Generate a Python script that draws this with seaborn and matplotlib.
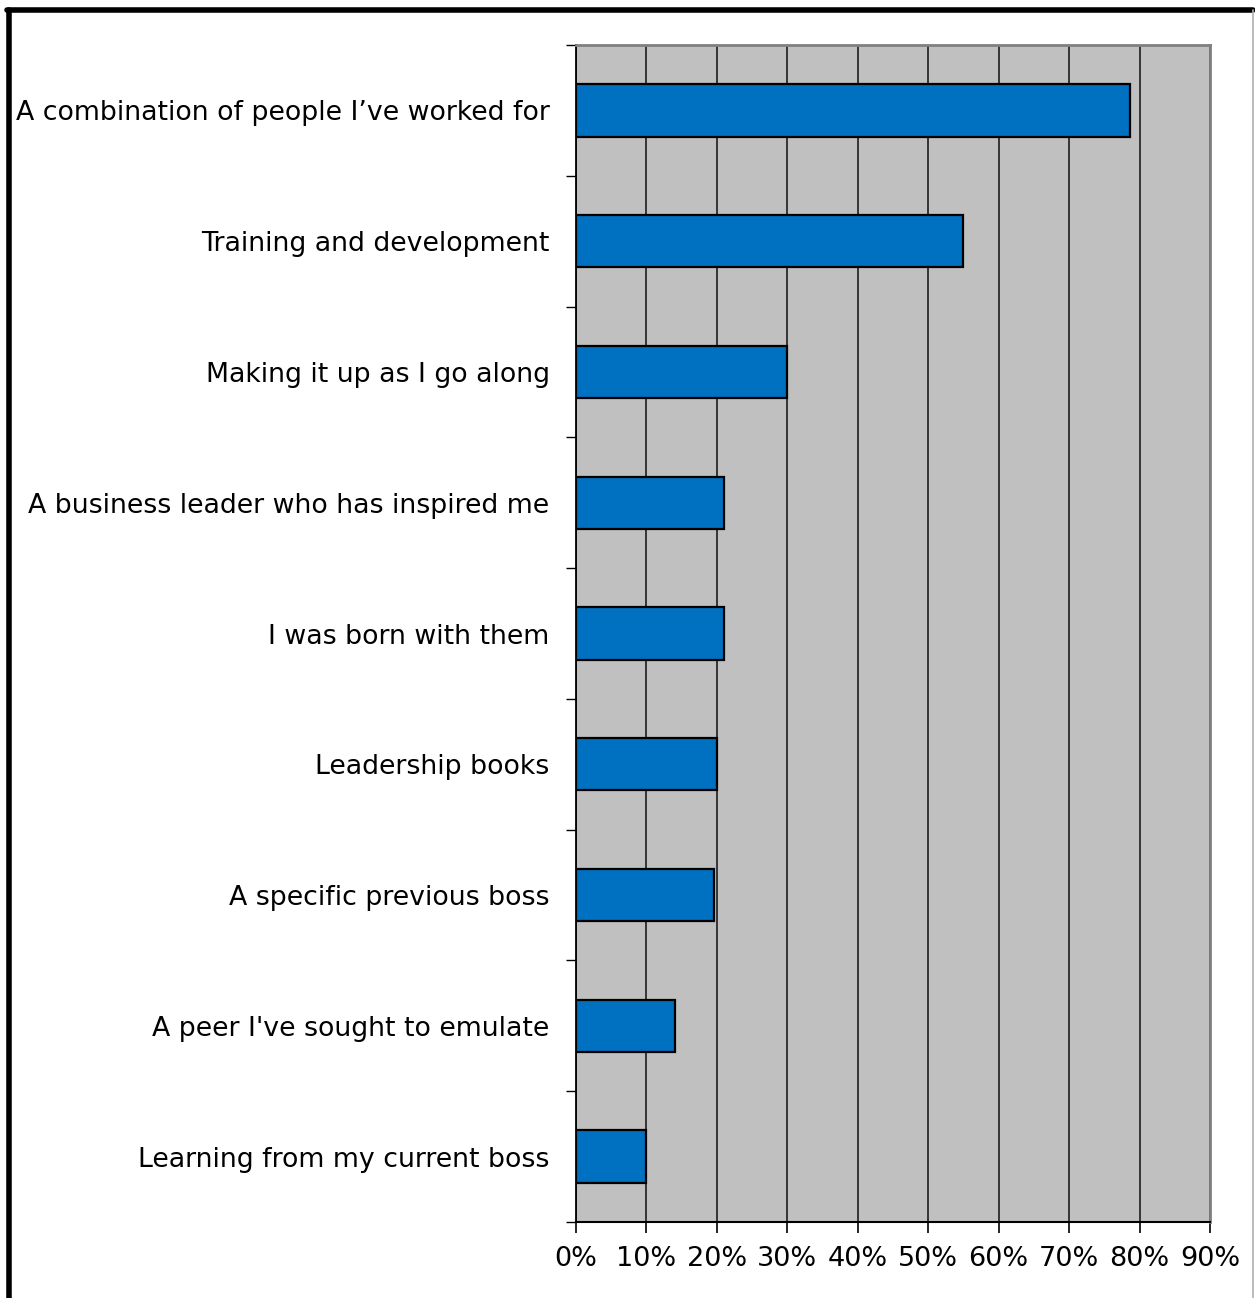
import matplotlib
matplotlib.use("Agg")
import matplotlib.pyplot as plt
from matplotlib.lines import Line2D
from matplotlib.ticker import FixedLocator, PercentFormatter
import seaborn as sns
import pandas as pd

categories = [
    "A combination of people I\u2019ve worked for",
    "Training and development",
    "Making it up as I go along",
    "A business leader who has inspired me",
    "I was born with them",
    "Leadership books",
    "A specific previous boss",
    "A peer I've sought to emulate",
    "Learning from my current boss",
]
shares = [78.6, 55.0, 30.0, 21.0, 21.0, 20.0, 19.6, 14.0, 10.0]
x_ticks = [0, 10, 20, 30, 40, 50, 60, 70, 80, 90]

df = pd.DataFrame({"source": categories, "share": shares})

sns.set_style("white")
plt.rcParams["font.family"] = ["DejaVu Sans"]
plt.rcParams["text.color"] = "black"
plt.rcParams["xtick.labelcolor"] = "black"
plt.rcParams["ytick.labelcolor"] = "black"

W, H = 1255, 1298
fig = plt.figure(figsize=(W / 100, H / 100), dpi=100)
ax = fig.add_axes([576 / W, 1 - 1222 / H, (1210 - 576) / W, (1222 - 45) / H])
ax.set_facecolor("#C0C0C0")

sns.barplot(data=df, x="share", y="source", orient="h", color="#0070C0",
            saturation=1, width=0.4, edgecolor="black", linewidth=1.6, ax=ax,
            zorder=3)

ax.set_xlim(0, 90)
ax.set_ylim(len(categories) - 0.5, -0.5)
ax.xaxis.set_major_locator(FixedLocator(x_ticks))
ax.xaxis.set_major_formatter(PercentFormatter(decimals=0))
ax.grid(axis="x", color="#2a2a2a", linewidth=1.3, zorder=1)
ax.set_axisbelow(True)
ax.set_xlabel("")
ax.set_ylabel("")

ax.tick_params(axis="x", direction="out", length=8, width=1.2, color="black",
               labelsize=19.5, labelcolor="black", pad=9, bottom=True)
ax.tick_params(axis="y", which="major", length=0, labelsize=19.3,
               labelcolor="black", pad=19)
ax.yaxis.set_minor_locator(FixedLocator([i + 0.5 for i in range(-1, len(categories))]))
ax.tick_params(axis="y", which="minor", direction="out", length=7, width=1.0,
               color="black", left=True)

for side in ("top", "right"):
    ax.spines[side].set_visible(True)
    ax.spines[side].set_color("#808080")
    ax.spines[side].set_linewidth(2)
ax.spines["left"].set_color("black")
ax.spines["left"].set_linewidth(1.3)
ax.spines["bottom"].set_color("black")
ax.spines["bottom"].set_linewidth(1.5)

# outer frame of the figure
fig.add_artist(Line2D([9 / W, 9 / W], [0, 1 - 10 / H], transform=fig.transFigure,
                      color="black", linewidth=4))
fig.add_artist(Line2D([7 / W, 1 - 2 / W], [1 - 10 / H, 1 - 10 / H], transform=fig.transFigure,
                      color="black", linewidth=4))
fig.add_artist(Line2D([1 - 2 / W, 1 - 2 / W], [0, 1 - 10 / H], transform=fig.transFigure,
                      color="#B0B0B0", linewidth=1.2))

fig.savefig("out.png", dpi=100)
